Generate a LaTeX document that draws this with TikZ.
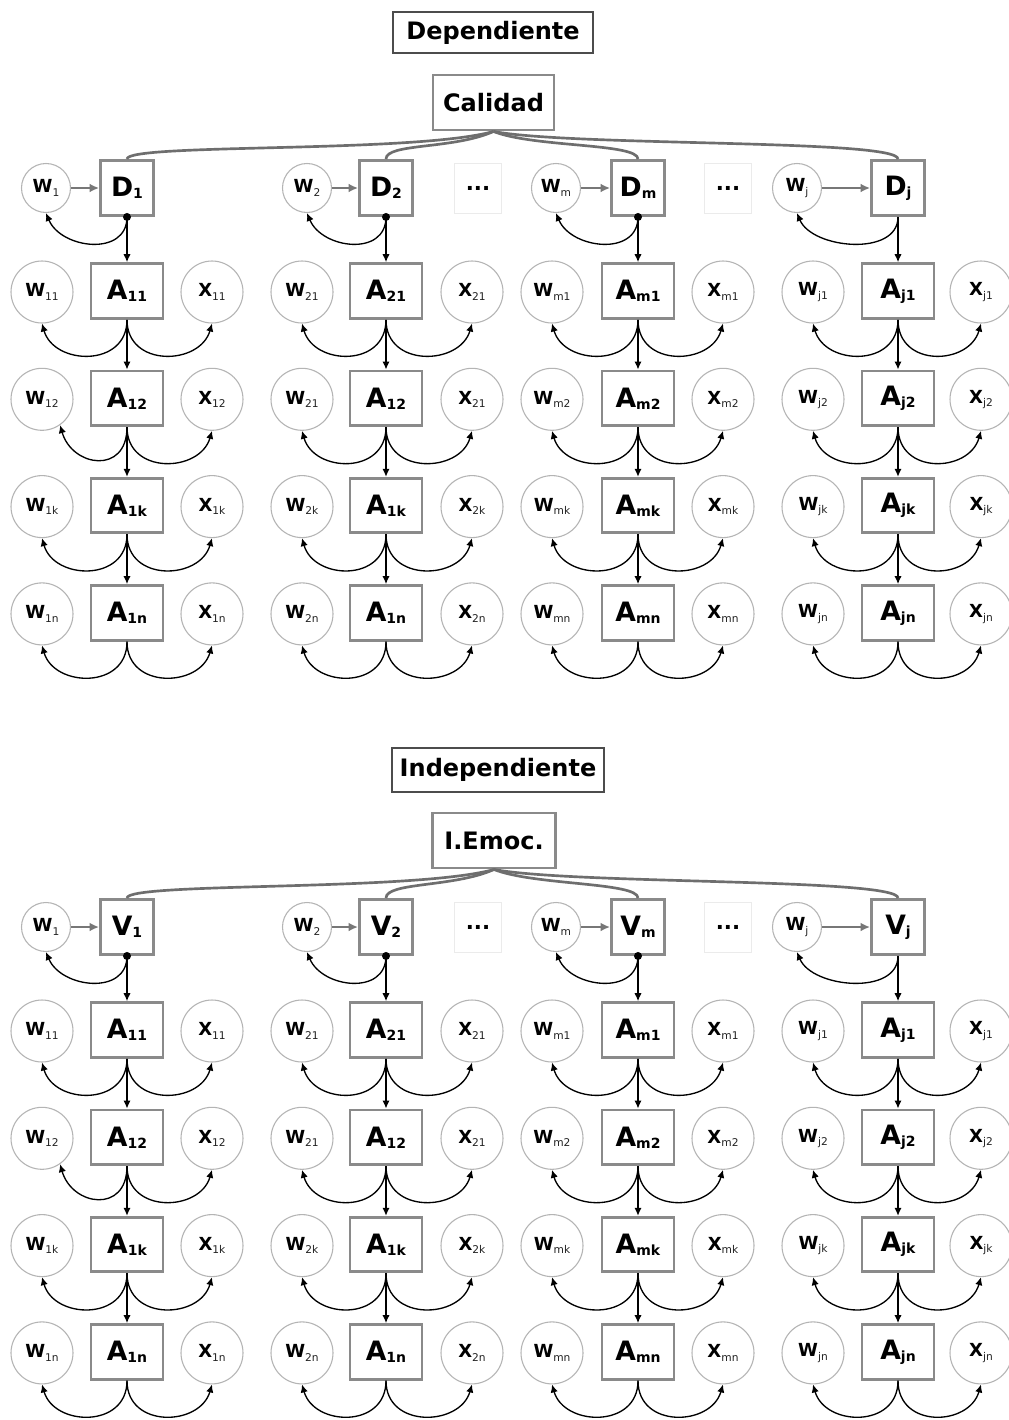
\documentclass[tikz,border=0pt]{standalone}
\usepackage{fontspec}
\setmainfont{DejaVu Sans}
\usetikzlibrary{arrows.meta,calc}
\definecolor{boxgray}{HTML}{8A8A8A}
\definecolor{circgray}{HTML}{B4B4B4}
\definecolor{linegray}{HTML}{6E6E6E}
\definecolor{arrgray}{HTML}{777777}
\definecolor{subgray}{HTML}{222222}
\newcommand\Albl[2]{{\fontsize{20}{20}\selectfont\bfseries #1}\raisebox{-1.5pt}{\fontsize{10.5}{11}\selectfont\bfseries #2}}
\newcommand\Clbl[2]{{\fontsize{13.5}{14}\selectfont\bfseries #1}\raisebox{-2.5pt}{\fontsize{8}{8}\selectfont\color{subgray}#2}}
\tikzset{
  abox/.style={draw=boxgray, line width=2.2pt, fill=white, minimum width=54pt, minimum height=41pt, inner sep=0pt},
  dbox/.style={draw=boxgray, line width=2.2pt, fill=white, minimum width=39.75pt, minimum height=41.25pt, inner sep=0pt},
  bigcirc/.style={circle, draw=circgray, line width=0.8pt, fill=white, minimum size=46.5pt, inner sep=0pt},
  smallcirc/.style={circle, draw=circgray, line width=0.8pt, fill=white, minimum size=36.75pt, inner sep=0pt},
  dotsbox/.style={draw=black!8, line width=0.6pt, minimum width=35.25pt, minimum height=37.5pt, inner sep=0pt, font=\fontsize{16}{16}\selectfont\bfseries},
  titlebox/.style={draw=black!70, line width=1pt, inner sep=0pt, font=\fontsize{18}{20}\selectfont\bfseries},
  topbox/.style={draw=boxgray, line width=2.2pt, fill=white, inner sep=0pt, font=\fontsize{18}{20}\selectfont\bfseries},
  arr/.style={-{Latex[length=6pt,width=5.5pt]}, line width=1pt, black},
  grayarr/.style={-{Latex[length=7pt,width=6.5pt]}, line width=2.2pt, arrgray},
  link/.style={line width=2pt, linegray},
}
% one column of A rows: #1 id, #2 xw, #3 xa, #4 xx, #5 D node, #6 list r/suba/subw/wanchor
\newcommand\drawcol[6]{%
  \foreach \r/\sa/\sw/\wa [remember=\r as \lastr (initially 0)] in {#6} {
    \pgfmathsetmacro\yy{291+(\r-1)*107.3}
    \node[abox] (#1a\r) at (#3,\yy) {\Albl{A}{\sa}};
    \node[bigcirc] (#1w\r) at (#2,\yy+1) {\Clbl{W}{\sw}};
    \node[bigcirc] (#1x\r) at (#4,\yy+1) {\Clbl{X}{\sw}};
    \draw[arr] (#1a\r.south) .. controls +(0,48) and +(12,42) .. (#1w\r.\wa);
    \draw[arr] (#1a\r.south) .. controls +(0,48) and +(-12,42) .. (#1x\r.south);
    \ifnum\r>1
      \draw[arr] (#1a\lastr.south) -- (#1a\r.north);
    \else
      \draw[arr] (#5.south) -- (#1a\r.north);
    \fi
  }%
}
% a whole block: #1 shift, #2 prefix, #3 top node, #4 letter
\newcommand\drawblock[4]{%
  \begin{scope}[shift={(0,#1)}]
    \node[smallcirc] (#2w1) at (46,188) {\Clbl{W}{1}};
    \node[dbox] (#2d1) at (127,188) {\Albl{#4}{1}};
    \node[smallcirc] (#2w2) at (307,188) {\Clbl{W}{2}};
    \node[dbox] (#2d2) at (386,188) {\Albl{#4}{2}};
    \node[dotsbox] (#2e1) at (478,188) {...};
    \node[smallcirc] (#2wm) at (556,188) {\Clbl{W}{m}};
    \node[dbox] (#2dm) at (638,188) {\Albl{#4}{m}};
    \node[dotsbox] (#2e2) at (728,188) {...};
    \node[smallcirc] (#2wj) at (797,188) {\Clbl{W}{j}};
    \node[dbox] (#2dj) at (898,188) {\Albl{#4}{j}};
    \foreach \k in {1,2,m,j} {
      \draw[grayarr] (#2w\k.east) -- (#2d\k.west);
      \draw[arr] (#2d\k.south) .. controls +(0,40) and +(15,36) .. (#2w\k.south);
    }
    \foreach \k in {1,2,m} { \fill (#2d\k.south) circle[radius=3pt]; }
    \draw[link] (#3.south) .. controls +(-80,22) and +(0,-16) .. (#2d1.north);
    \draw[link] (#3.south) .. controls +(-40,18) and +(0,-16) .. (#2d2.north);
    \draw[link] (#3.south) .. controls +(40,16) and +(0,-16) .. (#2dm.north);
    \draw[link] (#3.south) .. controls +(80,15) and +(0,-20) .. (#2dj.north);
    \drawcol{#2c1}{42}{127}{212}{#2d1}{1/11/11/south, 2/12/12/-55, 3/1k/1k/south, 4/1n/1n/south}
    \drawcol{#2c2}{302}{386}{472}{#2d2}{1/21/21/south, 2/12/21/south, 3/1k/2k/south, 4/1n/2n/south}
    \drawcol{#2c3}{552}{638}{723}{#2dm}{1/m1/m1/south, 2/m2/m2/south, 3/mk/mk/south, 4/mn/mn/south}
    \drawcol{#2c4}{813}{898}{981}{#2dj}{1/j1/j1/south, 2/j2/j2/south, 3/jk/jk/south, 4/jn/jn/south}
  \end{scope}%
}
\begin{document}
\begin{tikzpicture}[x=0.75pt,y=-0.75pt]
  \useasboundingbox (0,0) rectangle (1008,1420);
  \fill[white] (0,0) rectangle (1008,1420);
  % top block
  \node[titlebox, minimum width=150pt, minimum height=30.75pt] (dep) at (493,32.5) {Dependiente};
  \node[topbox, minimum width=90.75pt, minimum height=41.25pt] (cal) at (493.5,102.5) {Calidad};
  \drawblock{0}{t}{cal}{D}
  % bottom block
  \node[titlebox, minimum width=159pt, minimum height=33pt] (indep) at (498,770) {Independiente};
  \node[topbox, minimum width=92.25pt, minimum height=41.25pt] (iemo) at (494,840.5) {I.Emoc.};
  \drawblock{739}{b}{iemo}{V}
\end{tikzpicture}
\end{document}
